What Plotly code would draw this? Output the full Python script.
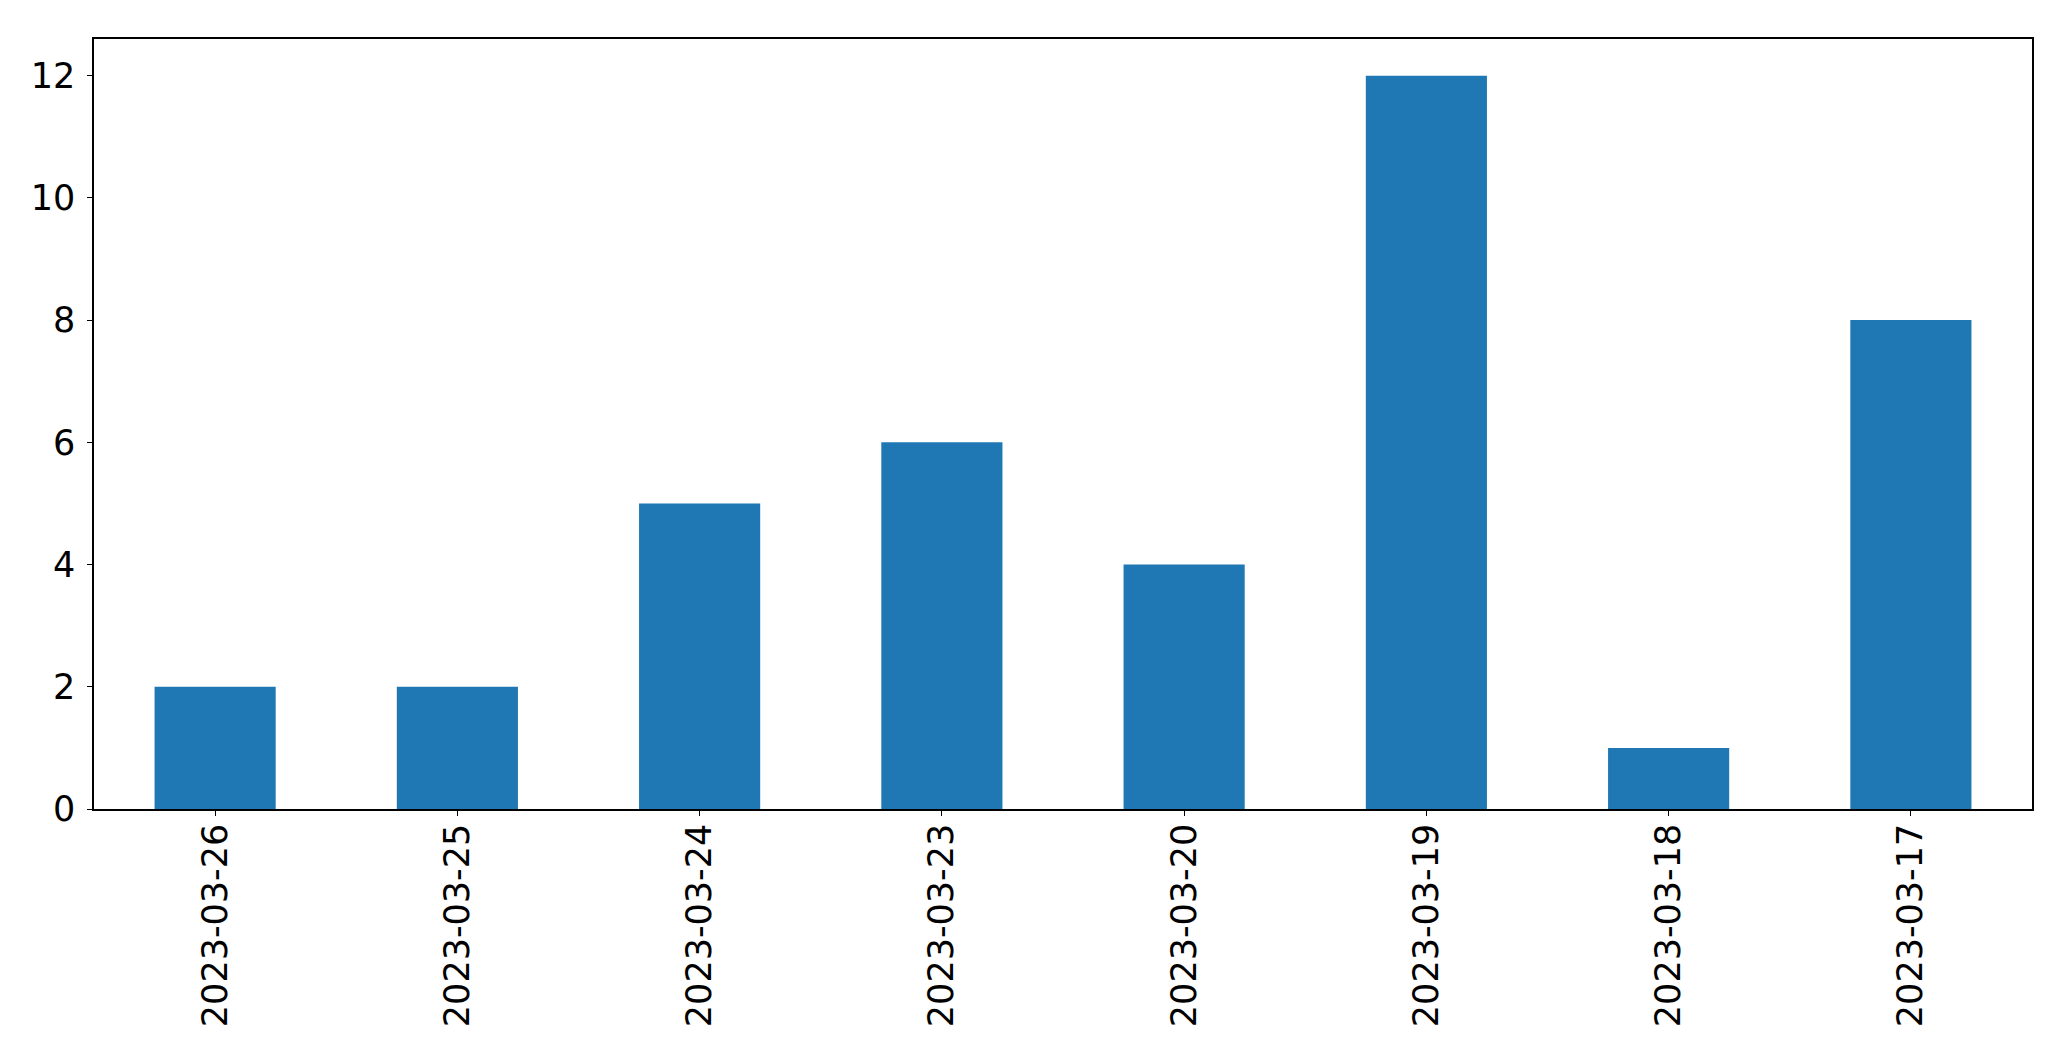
import plotly.graph_objects as go

dates = ["2023-03-26", "2023-03-25", "2023-03-24", "2023-03-23",
         "2023-03-20", "2023-03-19", "2023-03-18", "2023-03-17"]
counts = [2, 2, 5, 6, 4, 12, 1, 8]
y_ticks = [0, 2, 4, 6, 8, 10, 12]

fig = go.Figure(go.Bar(x=dates, y=counts, marker=dict(color="#1f77b4", line=dict(width=0)),
                       width=0.5))

font = dict(family="DejaVu Sans", size=35, color="black")
# page body has an 8px default margin; size/margins compensate for it
fig.update_layout(
    width=2063, height=1053,
    margin=dict(l=86, r=39, t=31, b=252),
    paper_bgcolor="white", plot_bgcolor="white",
    showlegend=False,
    font=font,
)
fig.update_xaxes(
    type="category", range=[-0.5, 7.5],
    showline=True, linecolor="black", linewidth=1.5, mirror=True,
    ticks="outside", ticklen=5, tickwidth=1.2, tickcolor="black",
    tickangle=-90, tickfont=font, showgrid=False, ticklabelstandoff=-6,
)
fig.update_yaxes(
    range=[0, 12.6], tickvals=y_ticks,
    showline=True, linecolor="black", linewidth=1.5, mirror=True,
    ticks="outside", ticklen=5, tickwidth=1.2, tickcolor="black",
    tickfont=font, showgrid=False, zeroline=False, ticklabelstandoff=5,
)
fig.write_html("out.html")
